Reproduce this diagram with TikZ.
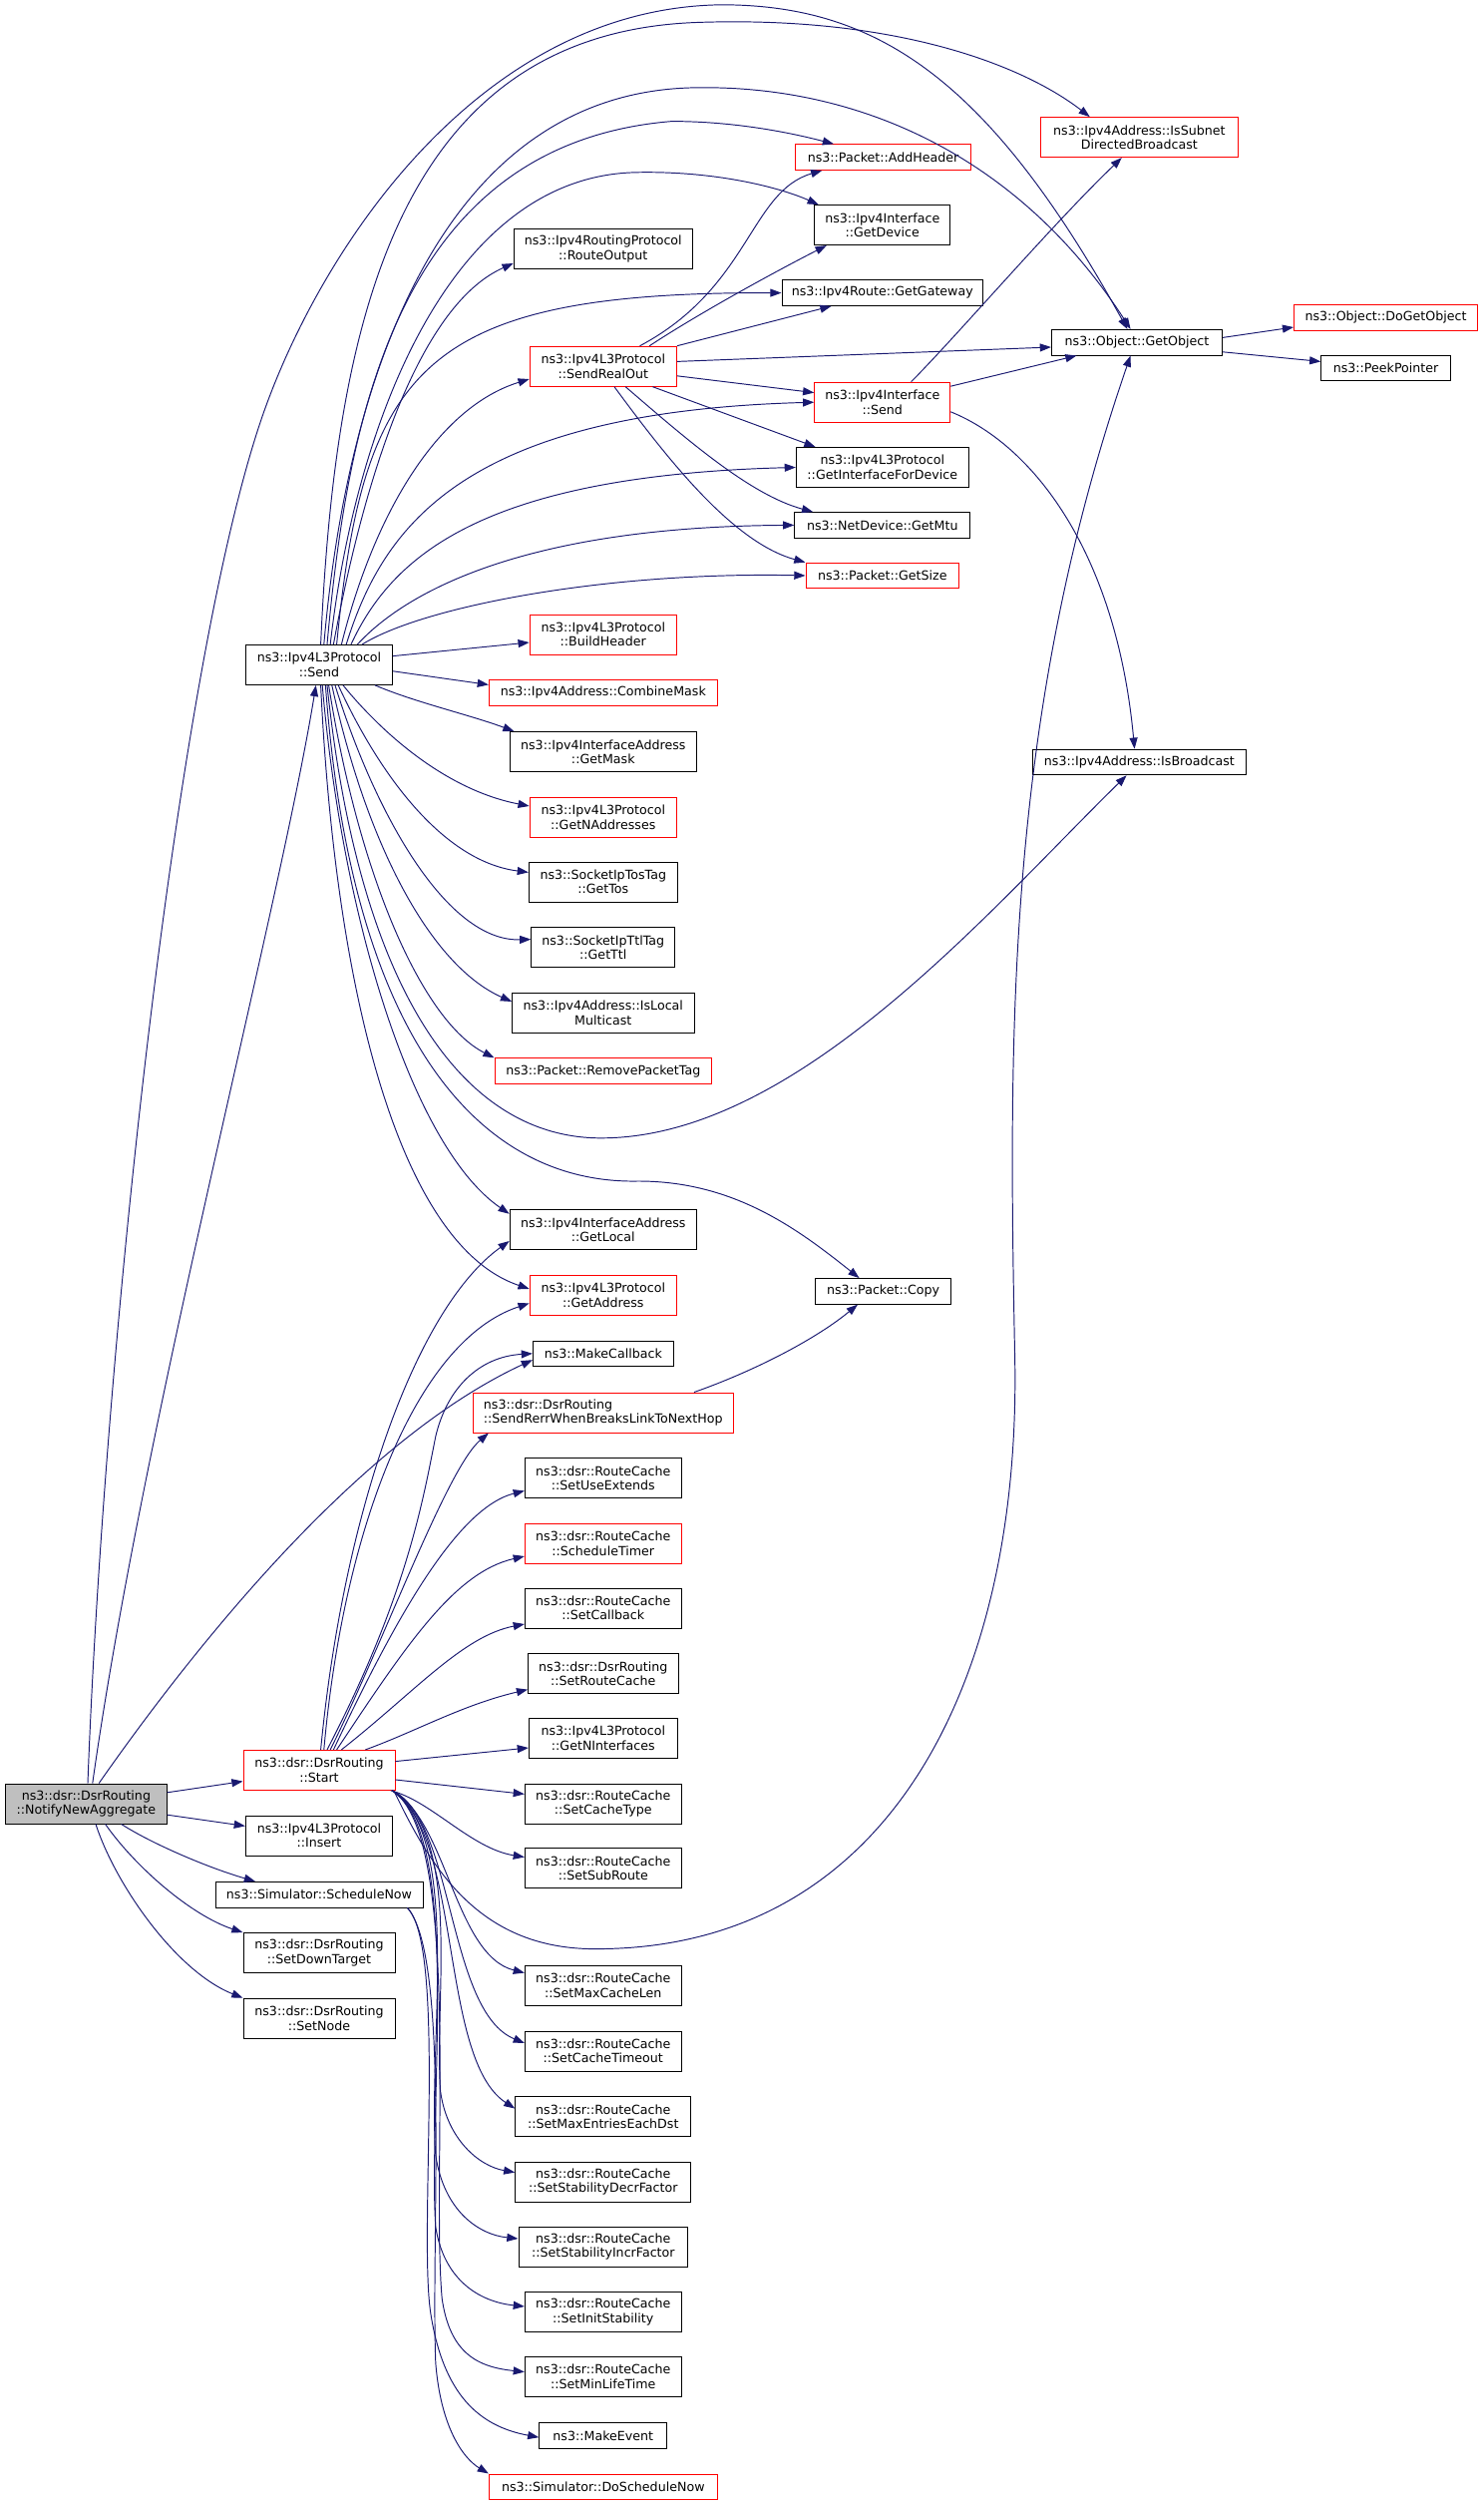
\documentclass[tikz,border=0pt]{standalone}
\usepackage{fontspec}
\setmainfont{DejaVu Sans}
\usetikzlibrary{arrows.meta,calc}
\definecolor{edgecol}{HTML}{191970}
\definecolor{boxred}{HTML}{FF0000}
\definecolor{boxgray}{HTML}{BFBFBF}
\newcommand\fsz{\fontsize{7.9}{9}\selectfont}
\begin{document}
\begin{tikzpicture}[x=1pt,y=-1pt,
  box/.style={draw=black,line width=0.6pt,fill=white,inner sep=0pt,align=center,font=\fsz},
  rbox/.style={box,draw=boxred},
  dbl/.style={minimum height=25pt},
  sgl/.style={minimum height=16pt},
  mw/.style={minimum width=#1pt},
  conn/.style={draw=edgecol,line width=0.6pt,-{Triangle[length=7pt,width=5pt]}}]
\useasboundingbox (0,0) rectangle (930,1569.4);
% column 1-2
\node[box,fill=boxgray,mw=101,dbl] (N) at (54,1130) {ns3::dsr::DsrRouting\\::NotifyNewAggregate};
\node[box,mw=92,dbl] (Send) at (200,416.5) {ns3::Ipv4L3Protocol\\::Send};
\node[rbox,mw=95,dbl] (Start) at (200,1109) {ns3::dsr::DsrRouting\\::Start};
\node[box,mw=92,dbl] (Insert) at (200,1150) {ns3::Ipv4L3Protocol\\::Insert};
\node[box,mw=130,sgl] (SchedNow) at (200,1187) {ns3::Simulator::ScheduleNow};
\node[box,mw=95,dbl] (SetDown) at (200,1223.5) {ns3::dsr::DsrRouting\\::SetDownTarget};
\node[box,mw=95,dbl] (SetNode) at (200,1264.5) {ns3::dsr::DsrRouting\\::SetNode};
% column 3
\node[box,mw=112,dbl] (RouteOutput) at (378,156) {ns3::Ipv4RoutingProtocol\\::RouteOutput};
\node[rbox,mw=92,dbl] (SRO) at (378,229.5) {ns3::Ipv4L3Protocol\\::SendRealOut};
\node[rbox,mw=92,dbl] (BuildHeader) at (378,397.5) {ns3::Ipv4L3Protocol\\::BuildHeader};
\node[rbox,mw=143,sgl] (CombineMask) at (378,434) {ns3::Ipv4Address::CombineMask};
\node[box,mw=117,dbl] (GetMask) at (378,471) {ns3::Ipv4InterfaceAddress\\::GetMask};
\node[rbox,mw=92,dbl] (GetNAddr) at (378,512) {ns3::Ipv4L3Protocol\\::GetNAddresses};
\node[box,mw=93,dbl] (GetTos) at (378,552.5) {ns3::SocketIpTosTag\\::GetTos};
\node[box,mw=90,dbl] (GetTtl) at (378,593.5) {ns3::SocketIpTtlTag\\::GetTtl};
\node[box,mw=114,dbl] (IsLocalMC) at (378,634.5) {ns3::Ipv4Address::IsLocal\\Multicast};
\node[rbox,mw=136,sgl] (RemoveTag) at (378,671) {ns3::Packet::RemovePacketTag};
\node[box,mw=117,dbl] (GetLocal) at (378,770.5) {ns3::Ipv4InterfaceAddress\\::GetLocal};
\node[rbox,mw=92,dbl] (GetAddress) at (378,811.5) {ns3::Ipv4L3Protocol\\::GetAddress};
\node[box,mw=88,sgl] (MakeCallback) at (378,848) {ns3::MakeCallback};
\node[rbox,mw=163,dbl,align=left] (SendRerr) at (378,885) {ns3::dsr::DsrRouting\\::SendRerrWhenBreaksLinkToNextHop};
\node[box,mw=98,dbl] (SetUseExt) at (378,926) {ns3::dsr::RouteCache\\::SetUseExtends};
\node[rbox,mw=98,dbl] (SchedTimer) at (378,967) {ns3::dsr::RouteCache\\::ScheduleTimer};
\node[box,mw=98,dbl] (SetCallback) at (378,1007.5) {ns3::dsr::RouteCache\\::SetCallback};
\node[box,mw=94,dbl] (SetRouteCache) at (378,1048.5) {ns3::dsr::DsrRouting\\::SetRouteCache};
\node[box,mw=93,dbl] (GetNIf) at (378,1089) {ns3::Ipv4L3Protocol\\::GetNInterfaces};
\node[box,mw=98,dbl] (SetCacheType) at (378,1130) {ns3::dsr::RouteCache\\::SetCacheType};
\node[box,mw=98,dbl] (SetSubRoute) at (378,1170.5) {ns3::dsr::RouteCache\\::SetSubRoute};
\node[box,mw=98,dbl] (SetMaxCacheLen) at (378,1244) {ns3::dsr::RouteCache\\::SetMaxCacheLen};
\node[box,mw=98,dbl] (SetCacheTimeout) at (378,1285) {ns3::dsr::RouteCache\\::SetCacheTimeout};
\node[box,mw=110,dbl] (SetMaxEntries) at (378,1326) {ns3::dsr::RouteCache\\::SetMaxEntriesEachDst};
\node[box,mw=110,dbl] (SetStabDecr) at (378,1367) {ns3::dsr::RouteCache\\::SetStabilityDecrFactor};
\node[box,mw=106,dbl] (SetStabIncr) at (378,1407.5) {ns3::dsr::RouteCache\\::SetStabilityIncrFactor};
\node[box,mw=98,dbl] (SetInitStab) at (378,1448.5) {ns3::dsr::RouteCache\\::SetInitStability};
\node[box,mw=98,dbl] (SetMinLife) at (378,1489) {ns3::dsr::RouteCache\\::SetMinLifeTime};
\node[box,mw=80,sgl] (MakeEvent) at (378,1526) {ns3::MakeEvent};
\node[rbox,mw=143,sgl] (DoSchedNow) at (378,1558) {ns3::Simulator::DoScheduleNow};
% column 4
\node[rbox,mw=110,sgl] (AddHeader) at (553.5,98.5) {ns3::Packet::AddHeader};
\node[box,mw=85,dbl] (GetDevice) at (553,141) {ns3::Ipv4Interface\\::GetDevice};
\node[box,mw=126,sgl] (GetGateway) at (553,183.5) {ns3::Ipv4Route::GetGateway};
\node[rbox,mw=85,dbl] (IS) at (553,252) {ns3::Ipv4Interface\\::Send};
\node[box,mw=108,dbl] (GIFD) at (553,292.8) {ns3::Ipv4L3Protocol\\::GetInterfaceForDevice};
\node[box,mw=110,sgl] (GetMtu) at (553,329) {ns3::NetDevice::GetMtu};
\node[rbox,mw=96,sgl] (GetSize) at (553,360.6) {ns3::Packet::GetSize};
\node[box,mw=85,sgl] (Copy) at (553.5,809) {ns3::Packet::Copy};
% column 5-6
\node[rbox,mw=124,dbl] (IsSubnet) at (714,86) {ns3::Ipv4Address::IsSubnet\\DirectedBroadcast};
\node[box,mw=107,sgl] (GetObject) at (712.5,214.5) {ns3::Object::GetObject};
\node[box,mw=134,sgl] (IsBroadcast) at (714,477.5) {ns3::Ipv4Address::IsBroadcast};
\node[rbox,mw=115,sgl] (DoGetObject) at (868.5,199) {ns3::Object::DoGetObject};
\node[box,mw=81,sgl] (PeekPointer) at (868.5,230.5) {ns3::PeekPointer};

% edges from NotifyNewAggregate
\draw[conn] ($(N.east)+(0,-7)$) -- ($(Start.west)+(0,7)$);
\draw[conn] ($(N.east)+(0,7)$) -- ($(Insert.west)+(0,-6)$);
\draw[conn] ($(N.south)+(22,0)$) .. controls (95,1155) and (130,1170) .. ($(SchedNow.north)+(-40,0)$);
\draw[conn] ($(N.south)+(12,0)$) .. controls (85,1170) and (120,1200) .. (SetDown.north west);
\draw[conn] ($(N.south)+(6,0)$) .. controls (72,1180) and (110,1235) .. (SetNode.north west);
\draw[conn] ($(N.north)+(8,0)$) .. controls (130,1020) and (230,900) .. ($(MakeCallback.west)+(0,4)$);
\draw[conn] ($(N.north)+(4,0)$) .. controls (90,890) and (175,570) .. ($(Send.south)+(-2,0)$);
\draw[conn] ($(N.north)+(1,0)$) .. controls (65,850) and (110,420) .. (164,262) .. controls (200,157) and (300,5) .. (452,3) .. controls (550,3) and (620,50) .. ($(GetObject.north)+(-6,0)$);

% edges from Ipv4L3Protocol::Send
\draw[conn] ($(Send.north)+(1,0)$) .. controls (210,200) and (250,20) .. (438,14) .. controls (560,10) and (640,40) .. ($(IsSubnet.north)+(-31,0)$);
\draw[conn] ($(Send.north)+(3,0)$) .. controls (218,230) and (280,60) .. (432,55) .. controls (540,52) and (640,100) .. ($(GetObject.north)+(-4,0)$);
\draw[conn] ($(Send.north)+(5,0)$) .. controls (218,260) and (250,90) .. (421,76) .. controls (460,76) and (495,83) .. ($(AddHeader.north)+(-31,0)$);
\draw[conn] ($(Send.north)+(7,0)$) .. controls (222,270) and (280,110) .. (399,108) .. controls (450,107) and (490,118) .. ($(GetDevice.north)+(-40,0)$);
\draw[conn] ($(Send.north)+(9,0)$) .. controls (230,290) and (265,190) .. ($(RouteOutput.west)+(0,9)$);
\draw[conn] ($(Send.north)+(11,0)$) .. controls (228,230) and (265,183) .. (GetGateway.west);
\draw[conn] ($(Send.north)+(14,0)$) .. controls (235,320) and (275,255) .. ($(SRO.west)+(0,8)$);
\draw[conn] ($(Send.north)+(17,0)$) .. controls (240,330) and (290,258) .. (IS.west);
\draw[conn] ($(Send.north)+(20,0)$) .. controls (245,350) and (300,298) .. (GIFD.west);
\draw[conn] ($(Send.north)+(24,0)$) .. controls (255,370) and (330,330) .. (GetMtu.west);
\draw[conn] ($(Send.north)+(27,0)$) .. controls (265,380) and (380,358) .. (GetSize.west);
\draw[conn] ($(Send.east)+(0,-5.5)$) -- ($(BuildHeader.west)+(0,5)$);
\draw[conn] ($(Send.east)+(0,4)$) -- ($(CombineMask.west)+(0,-5)$);
\draw[conn] ($(Send.south)+(35,0)$) .. controls (260,440) and (295,448) .. ($(GetMask.north west)+(3,0)$);
\draw[conn] ($(Send.south)+(15,0)$) .. controls (240,460) and (280,495) .. ($(GetNAddr.west)+(0,-7)$);
\draw[conn] ($(Send.south)+(12,0)$) .. controls (240,490) and (280,540) .. ($(GetTos.west)+(0,-6)$);
\draw[conn] ($(Send.south)+(10,0)$) .. controls (235,510) and (280,590) .. ($(GetTtl.west)+(0,-5)$);
\draw[conn] ($(Send.south)+(8,0)$) .. controls (230,530) and (270,605) .. ($(IsLocalMC.west)+(0,-7)$);
\draw[conn] ($(Send.south)+(6,0)$) .. controls (225,550) and (265,640) .. (RemoveTag.north west);
\draw[conn] ($(Send.south)+(5,0)$) .. controls (225,620) and (290,714) .. (378,713) .. controls (500,712) and (620,570) .. ($(IsBroadcast.south)+(-8,0)$);
\draw[conn] ($(Send.south)+(4,0)$) .. controls (220,650) and (300,742) .. (400,740) .. controls (460,740) and (500,770) .. ($(Copy.north)+(-15,0)$);
\draw[conn] ($(Send.south)+(2,0)$) .. controls (215,580) and (260,720) .. ($(GetLocal.west)+(0,-10)$);
\draw[conn] ($(Send.south)+(1,0)$) .. controls (210,620) and (250,780) .. ($(GetAddress.west)+(0,-4)$);

% edges from SendRealOut
\draw[conn] ($(SRO.north)+(23,0)$) .. controls (470,180) and (470,120) .. ($(AddHeader.south west)+(17,0)$);
\draw[conn] ($(SRO.north)+(29,0)$) .. controls (440,195) and (490,168) .. ($(GetDevice.south)+(-35,0)$);
\draw[conn] (SRO.north east) -- ($(GetGateway.south)+(-32,0)$);
\draw[conn] ($(SRO.east)+(0,-3)$) -- ($(GetObject.west)+(0,3)$);
\draw[conn] ($(SRO.east)+(0,6)$) -- ($(IS.west)+(0,-6)$);
\draw[conn] ($(SRO.south)+(31,0)$) -- ($(GIFD.north)+(-42,0)$);
\draw[conn] ($(SRO.south)+(14,0)$) .. controls (430,275) and (470,310) .. ($(GetMtu.north)+(-43.5,0)$);
\draw[conn] ($(SRO.south)+(7,0)$) .. controls (420,290) and (460,340) .. (GetSize.north west);

% edges from Ipv4Interface::Send
\draw[conn] ($(IS.north)+(18,0)$) .. controls (600,210) and (660,140) .. ($(IsSubnet.south)+(-11,0)$);
\draw[conn] ($(IS.east)+(0,-10)$) -- ($(GetObject.south west)+(16,0)$);
\draw[conn] ($(IS.east)+(0,6)$) .. controls (650,280) and (700,350) .. ($(IsBroadcast.north)+(-3,0)$);

% edges from GetObject
\draw[conn] ($(GetObject.east)+(0,-3)$) -- ($(DoGetObject.west)+(0,6)$);
\draw[conn] ($(GetObject.east)+(0,6)$) -- ($(PeekPointer.west)+(0,-4)$);

% edges from DsrRouting::Start
\draw[conn] ($(Start.north)+(1,0)$) .. controls (215,950) and (260,820) .. ($(GetLocal.west)+(0,7)$);
\draw[conn] ($(Start.north)+(3,0)$) .. controls (215,960) and (260,840) .. ($(GetAddress.west)+(0,5)$);
\draw[conn] ($(Start.north)+(5,0)$) .. controls (255,1000) and (265,940) .. (273,900) .. controls (280,870) and (300,850) .. (MakeCallback.west);
\draw[conn] ($(Start.north)+(7,0)$) .. controls (240,1030) and (280,920) .. ($(SendRerr.south west)+(10,0)$);
\draw[conn] ($(Start.north)+(9,0)$) .. controls (245,1020) and (285,945) .. ($(SetUseExt.west)+(0,8)$);
\draw[conn] ($(Start.north)+(11,0)$) .. controls (255,1030) and (285,985) .. ($(SchedTimer.west)+(0,8)$);
\draw[conn] ($(Start.north)+(14,0)$) .. controls (260,1060) and (290,1025) .. ($(SetCallback.west)+(0,10)$);
\draw[conn] ($(Start.north)+(29,0)$) .. controls (260,1085) and (290,1068) .. ($(SetRouteCache.west)+(0,10)$);
\draw[conn] ($(Start.east)+(0,-5.5)$) -- ($(GetNIf.west)+(0,6)$);
\draw[conn] ($(Start.east)+(0,6)$) -- ($(SetCacheType.west)+(0,-6)$);
\draw[conn] ($(Start.south east)+(-3,0)$) .. controls (270,1128) and (295,1158) .. ($(SetSubRoute.west)+(0,-7)$);
\draw[conn] ($(Start.south east)+(-1,0)$) .. controls (270,1170) and (300,1222) .. (375,1221) .. controls (560,1220) and (640,1050) .. (636,850) .. controls (632,650) and (630,450) .. ($(GetObject.south)+(-4,0)$);
\draw[conn] ($(Start.south east)+(-2,0)$) .. controls (280,1140) and (285,1225) .. ($(SetMaxCacheLen.west)+(0,-8)$);
\draw[conn] ($(Start.south east)+(-2,0)$) .. controls (285,1140) and (280,1260) .. ($(SetCacheTimeout.west)+(0,-5)$);
\draw[conn] ($(Start.south east)+(-2,0)$) .. controls (290,1150) and (275,1290) .. ($(SetMaxEntries.west)+(0,-5)$);
\draw[conn] ($(Start.south east)+(-2,0)$) .. controls (290,1150) and (272,1250) .. (276,1310) .. controls (280,1340) and (300,1357) .. ($(SetStabDecr.west)+(0,-6)$);
\draw[conn] ($(Start.south east)+(-2,0)$) .. controls (290,1150) and (268,1280) .. (273,1350) .. controls (278,1385) and (300,1400) .. ($(SetStabIncr.west)+(0,-5)$);
\draw[conn] ($(Start.south east)+(-2,0)$) .. controls (290,1150) and (268,1320) .. (273,1395) .. controls (278,1428) and (300,1442) .. ($(SetInitStab.west)+(0,-3.5)$);
\draw[conn] ($(Start.south east)+(-2,0)$) .. controls (290,1150) and (270,1360) .. (277,1440) .. controls (282,1475) and (300,1483) .. ($(SetMinLife.west)+(0,-3)$);

% edges from ScheduleNow
\draw[conn] ($(SchedNow.south east)+(-10,0)$) .. controls (280,1220) and (262,1400) .. (270,1450) .. controls (278,1500) and (300,1520) .. ($(MakeEvent.west)+(0,1)$);
\draw[conn] ($(SchedNow.south east)+(-10,0)$) .. controls (282,1225) and (270,1400) .. (273,1480) .. controls (276,1520) and (290,1540) .. (DoSchedNow.north west);

% edge from SendRerr
\draw[conn] ($(SendRerr.north)+(57,0)$) .. controls (470,860) and (510,840) .. ($(Copy.south)+(-16,0)$);
\end{tikzpicture}
\end{document}
